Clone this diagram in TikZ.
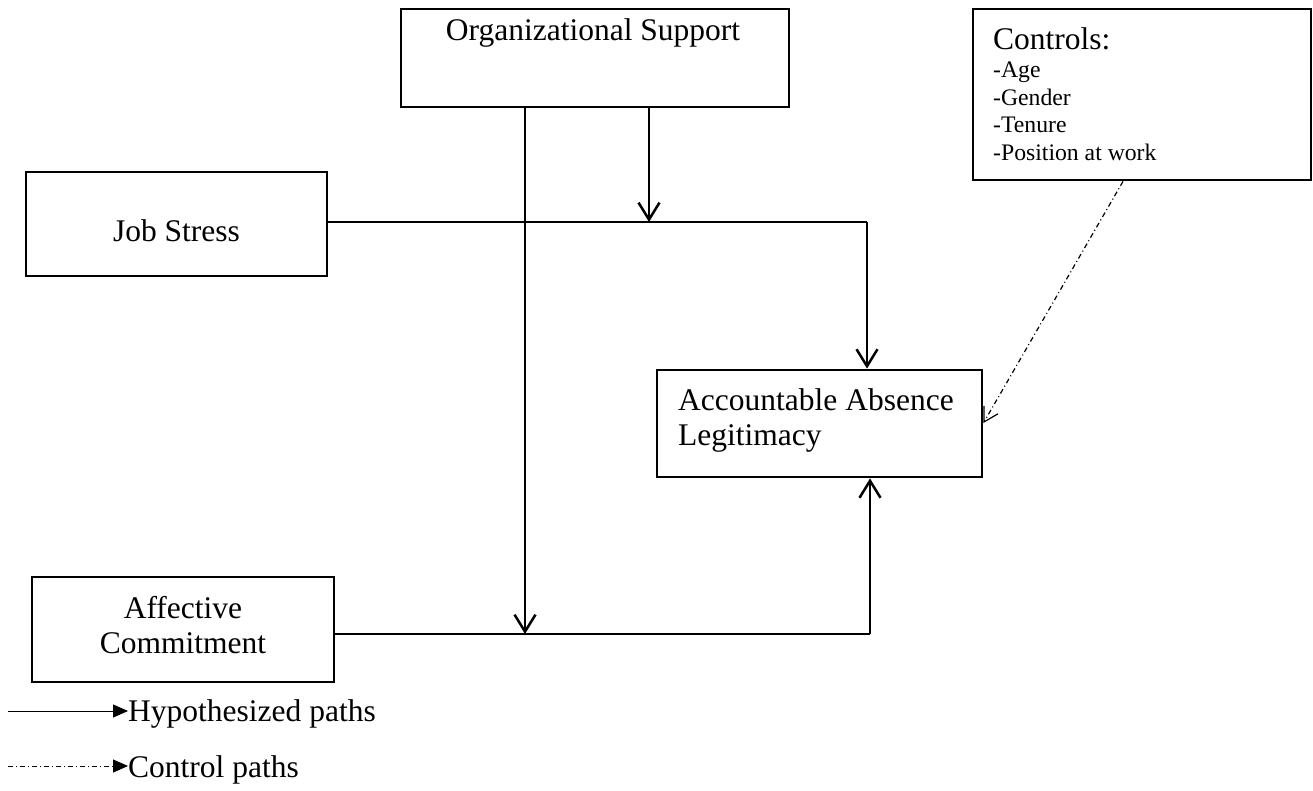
\documentclass[tikz,border=0pt]{standalone}
\usepackage{fontspec}
\setmainfont{Liberation Serif}
\usetikzlibrary{arrows.meta}
\begin{document}
\begin{tikzpicture}[x=1pt,y=-1pt,
  box/.style={draw, line width=2.8pt, inner sep=0pt, fill=white},
  lbl/.style={inner sep=0pt, font=\fontsize{31.5}{35}\selectfont},
  sublbl/.style={inner sep=0pt, font=\fontsize{23.7}{27}\selectfont, anchor=base west},
  hyp/.style={line width=2.7pt, -{Straight Barb[length=17pt,width=21pt,line width=2.5pt]}},
  ctl/.style={line width=1.2pt, dash pattern=on 5pt off 3pt on 1pt off 3pt,
    -{Straight Barb[length=14pt,width=16pt,line width=1.2pt]}},
  leghyp/.style={line width=1pt, -{Triangle[length=15pt,width=13pt]}},
  legctl/.style={line width=1pt, dash pattern=on 5pt off 3pt on 1pt off 3pt, -{Triangle[length=15pt,width=13pt]}}]
\useasboundingbox (0,0) rectangle (1313,791);
\fill[white] (0,0) rectangle (1313,791);

% boxes
\node[box, minimum width=388pt, minimum height=98pt] (org) at (595,58) {};
\node[box, minimum width=338pt, minimum height=171pt] (ctrl) at (1142,94.5) {};
\node[box, minimum width=301pt, minimum height=104pt] (js) at (176.5,224) {};
\node[box, minimum width=325pt, minimum height=107pt] (aal) at (819.5,423.5) {};
\node[box, minimum width=302pt, minimum height=105pt] (ac) at (183,629.5) {};

% texts
\node[lbl, anchor=base] (orgt) at (593,41) {Organizational Support};
\node[lbl, anchor=base] (jst) at (176.5,242) {Job Stress};
\node[lbl, anchor=base west] (aalt1) at (678,410) {Accountable Absence};
\node[lbl, anchor=base west] (aalt2) at (678,445) {Legitimacy};
\node[lbl, anchor=base] (act1) at (183,618) {Affective};
\node[lbl, anchor=base] (act2) at (183,653) {Commitment};
\node[lbl, anchor=base west] (ct0) at (993,50) {Controls:};
\node[sublbl] (ct1) at (993,78) {-Age};
\node[sublbl] (ct2) at (993,105.5) {-Gender};
\node[sublbl] (ct3) at (993,133) {-Tenure};
\node[sublbl] (ct4) at (993,160.5) {-Position at work};

% junction coordinates
\coordinate (c1) at (867,222);
\coordinate (m1) at (649,222);
\coordinate (m2) at (525,634);
\coordinate (c2) at (870,634);
\coordinate (kx) at (1123,423);

% hypothesized paths
\draw[line width=2.7pt] (js.east |- c1) -- (c1);
\draw[hyp] (c1) -- (c1 |- aal.north);
\draw[hyp] (m1 |- org.south) -- (m1);
\draw[hyp] (m2 |- org.south) -- (m2);
\draw[line width=2.7pt] (ac.east |- c2) -- (c2);
\draw[hyp] (c2) -- (c2 |- aal.south);

% control path
\draw[ctl] (kx |- ctrl.south) -- (aal.east |- kx);

% legend
\node[lbl, anchor=base west] (lg1) at (128,721) {Hypothesized paths};
\node[lbl, anchor=base west] (lg2) at (128,777) {Control paths};
\coordinate (la) at (8,711);
\coordinate (lb) at (8,766);
\draw[leghyp] (la) -- (lg1.west |- la);
\draw[legctl] (lb) -- (lg2.west |- lb);
\end{tikzpicture}
\end{document}
